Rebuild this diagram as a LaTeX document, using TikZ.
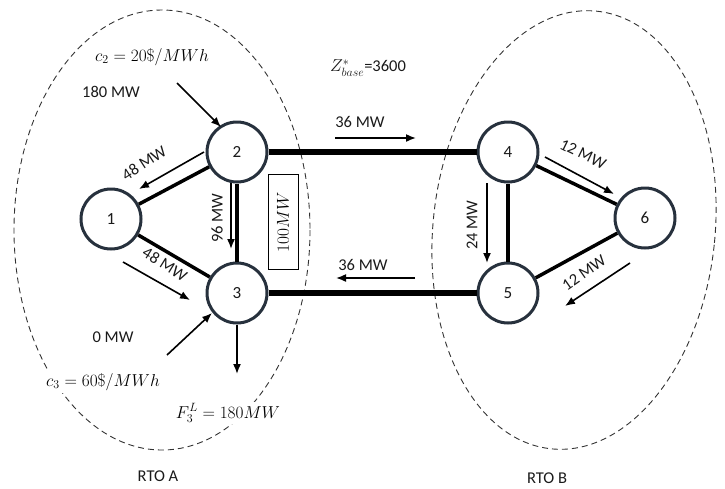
\documentclass[tikz,border=0pt]{standalone}
\usepackage{fontspec}
\setmainfont{Carlito}
\usetikzlibrary{arrows.meta}
\definecolor{busc}{HTML}{27313D}
\definecolor{txt}{HTML}{1A1A1A}
\begin{document}
\begin{tikzpicture}[x=1pt,y=-1pt,
  bus/.style={circle,draw=busc,line width=3pt,fill=white,minimum size=60pt,inner sep=0pt,font=\fontsize{17}{20}\selectfont,text=txt},
  flow/.style={line width=1.6pt,-{Latex[length=10pt,width=8pt]}},
  lbl/.style={font=\fontsize{16.5}{20}\selectfont,inner sep=1pt,text=txt},
  mlbl/.style={font=\fontsize{18}{20}\selectfont,inner sep=2pt,fill=white,text=black},
  region/.style={dash pattern=on 6pt off 4pt,line width=0.9pt,draw=black!80},
  line1/.style={line width=3.5pt},
  tie/.style={line width=6.5pt}]
\useasboundingbox (0,0) rectangle (725,488);
% regions
\draw[region] (162,230) ellipse [x radius=148, y radius=220];
\draw[region,rotate around={-6:(574,230)}] (574,230) ellipse [x radius=141, y radius=220];
% buses
\node[bus] (n1) at (111,219) {1};
\node[bus] (n2) at (237,152) {2};
\node[bus] (n3) at (237,293) {3};
\node[bus] (n4) at (508,152) {4};
\node[bus] (n5) at (508,293) {5};
\node[bus] (n6) at (645,218) {6};
% lines
\draw[line1] (n1) -- (n2);
\draw[line1] (n1) -- (n3);
\draw[line1] (n2) -- (n3);
\draw[tie] (n2) -- (n4);
\draw[tie] (n3) -- (n5);
\draw[line1] (n4) -- (n5);
\draw[line1] (n4) -- (n6);
\draw[line1] (n5) -- (n6);
% flow arrow ends
\coordinate (g2s) at (177,83);  \coordinate (g2e) at (221,127);
\coordinate (f21s) at (204,152); \coordinate (f21e) at (139,189);
\coordinate (f23s) at (231,183); \coordinate (f23e) at (231,249);
\coordinate (f13s) at (123,262); \coordinate (f13e) at (190,300);
\coordinate (g3s) at (167,355); \coordinate (g3e) at (212,313);
\coordinate (ld3) at (237,374);
\coordinate (f24s) at (335,138); \coordinate (f24e) at (416,138);
\coordinate (f53s) at (415,278); \coordinate (f53e) at (336,278);
\coordinate (f45s) at (487,183); \coordinate (f45e) at (487,263);
\coordinate (f46s) at (545,157); \coordinate (f46e) at (614,194);
\coordinate (f65s) at (630,263); \coordinate (f65e) at (565,306);
\draw[flow] (g2s) -- (g2e);
\draw[flow] (f21s) -- (f21e);
\draw[flow] (f23s) -- (f23e);
\draw[flow] (f13s) -- (f13e);
\draw[flow] (g3s) -- (g3e);
\draw[flow] (n3.south) -- (ld3);
\draw[flow] (f24s) -- (f24e);
\draw[flow] (f53s) -- (f53e);
\draw[flow] (f45s) -- (f45e);
\draw[flow] (f46s) -- (f46e);
\draw[flow] (f65s) -- (f65e);
% labels
\node[mlbl] (c2) at (152,57) {$c_2 = 20\$/MWh$};
\node[lbl] (p2) at (111,92) {180 MW};
\node[lbl,rotate=33] (l21) at (144,163) {48 MW};
\node[lbl,rotate=90] (l23) at (217,218) {96 MW};
\node[draw,line width=0.8pt,rotate=90,minimum width=95pt,minimum height=30pt,inner sep=1pt,font=\fontsize{17}{20}\selectfont] (cap) at (283,222) {$100MW$};
\node[lbl,rotate=-32] (l13) at (165,264) {48 MW};
\node[lbl] (p3) at (113,337) {0 MW};
\node[mlbl] (c3) at (103,382) {$c_3 = 60\$/MWh$};
\node[mlbl] (ld) at (228,413) {$F_3^L = 180MW$};
\node[lbl] (ra) at (158,476) {RTO A};
\node[lbl] (rb) at (547,478) {RTO B};
\node[lbl] (z) at (368,68) {$Z^{*}_{base}$=3600};
\node[lbl] (l24) at (360,122) {36 MW};
\node[lbl] (l53) at (363,265) {36 MW};
\node[lbl,rotate=90] (l45) at (472,225) {24 MW};
\node[lbl,rotate=-26] (l46) at (583,154) {12 MW};
\node[lbl,rotate=35] (l65) at (584,273) {12 MW};
\end{tikzpicture}
\end{document}
